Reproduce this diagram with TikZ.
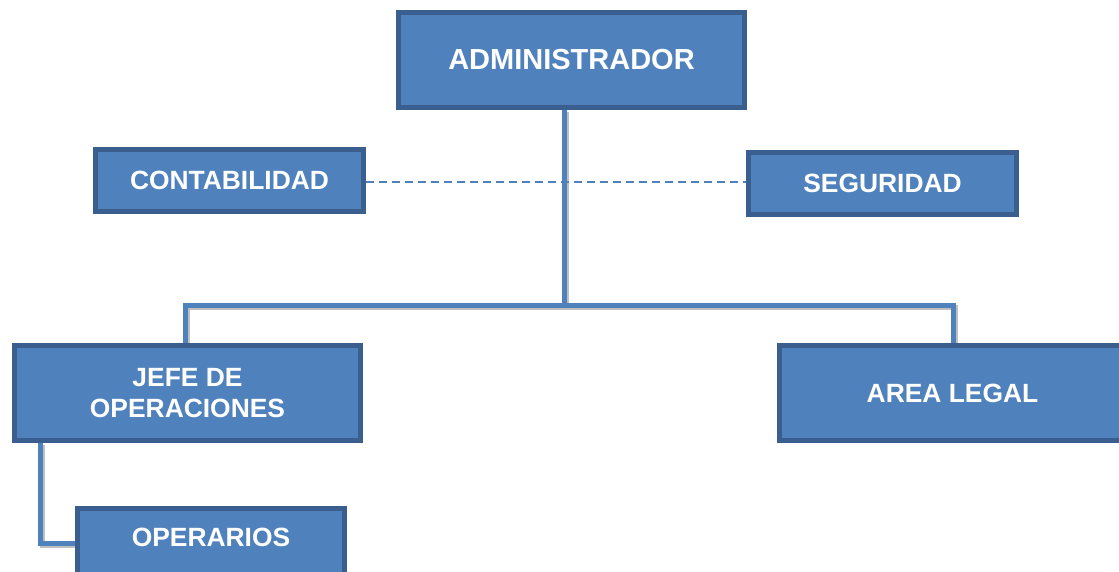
\documentclass[tikz,border=0pt]{standalone}
\usepackage{fontspec}
\setmainfont{Liberation Sans}
\definecolor{boxfill}{HTML}{4F81BD}
\definecolor{boxedge}{HTML}{3A5F8F}
\definecolor{linec}{HTML}{4F81BD}
\pgfdeclarelayer{background}
\pgfsetlayers{background,main}
\begin{document}
\begin{tikzpicture}[x=1pt,y=-1pt,
  orgbox/.style={draw=boxedge, fill=boxfill, line width=5pt, text=white,
    font=\fontsize{26.4}{31}\selectfont\bfseries, align=center, inner sep=0pt},
  bigbox/.style={orgbox, minimum width=346pt, minimum height=95pt},
  smallbox/.style={orgbox, minimum width=268pt, minimum height=62pt},
  conn/.style={draw=linec, line width=5pt},
  connshadow/.style={draw=black!25, line width=5pt, transform canvas={xshift=2pt,yshift=-2pt}},
  dashconn/.style={draw=linec, line width=2pt, dash pattern=on 8pt off 5pt}]
\useasboundingbox (0,0) rectangle (1119,571);
\node[bigbox, font=\fontsize{29}{34}\selectfont\bfseries] (admin) at (571.5,60) {ADMINISTRADOR};
\node[smallbox] (conta) at (229.5,180.5) {CONTABILIDAD};
\node[smallbox] (segu) at (882.5,183.5) {SEGURIDAD};
\node[bigbox] (jefe) at (187.5,393) {JEFE DE\\OPERACIONES};
\node[bigbox] (area) at (952.5,393) {AREA LEGAL};
\node[orgbox, minimum width=267pt, minimum height=70pt] (oper) at (211,543.5) {\raisebox{12pt}{OPERARIOS}};
\coordinate (bus) at (564,305);
\coordinate (lbus) at (185,305);
\coordinate (rbus) at (953,305);
\coordinate (jbus) at (40,543);
\begin{pgfonlayer}{background}
\path[connshadow] (admin.south -| bus) -- (bus);
\path[connshadow] (jefe.north -| lbus) -- (lbus) -- (rbus) -- (area.north -| rbus);
\path[connshadow] (jefe.south -| jbus) -- (jbus) -- (oper.west |- jbus);
\path[conn] (admin.south -| bus) -- (bus);
\path[conn] (jefe.north -| lbus) -- (lbus) -- (rbus) -- (area.north -| rbus);
\path[conn] (jefe.south -| jbus) -- (jbus) -- (oper.west |- jbus);
\path[dashconn] (conta.east |- 0,182) -- (segu.west |- 0,182);
\end{pgfonlayer}
\end{tikzpicture}
\end{document}
